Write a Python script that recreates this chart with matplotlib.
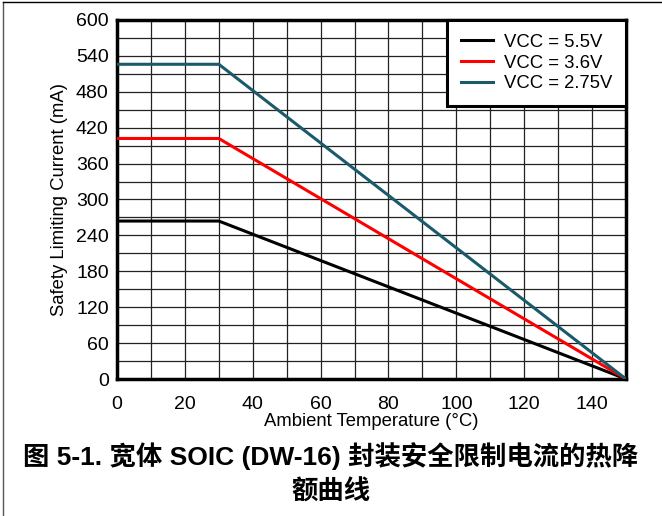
import matplotlib.pyplot as plt
from matplotlib.lines import Line2D

plt.rcParams['font.family'] = ['Liberation Sans', 'Noto Sans CJK SC', 'DejaVu Sans']

# data
temps = [0, 30, 150]
curr_55 = [264, 264, 0]
curr_36 = [402, 402, 0]
curr_275 = [526, 526, 0]
labels = ['VCC = 5.5V', 'VCC = 3.6V', 'VCC = 2.75V']
colors = ['#000000', '#ff0000', '#1a5a6a']

x_ticks = list(range(0, 141, 20))
y_ticks = list(range(0, 601, 60))

fig = plt.figure(figsize=(6.62, 5.16), dpi=100)
ax = fig.add_axes([117 / 662, 1 - 379 / 516, (626 - 117) / 662, (379 - 20) / 516])

for y, lab, c in zip([curr_55, curr_36, curr_275], labels, colors):
    ax.plot(temps, y, color=c, lw=2.2, label=lab, zorder=3)

ax.set_xlim(0, 150)
ax.set_ylim(0, 600)
ax.set_xticks(x_ticks)
ax.set_yticks(y_ticks)
ax.set_xticks(range(0, 151, 10), minor=True)
ax.set_yticks(range(0, 601, 30), minor=True)
ax.grid(which='both', color='#222222', lw=0.9)
ax.tick_params(which='both', length=0, labelsize=14)
ax.tick_params(axis='x', pad=12)
ax.tick_params(axis='y', pad=6)
for s in ax.spines.values():
    s.set_linewidth(2.5)

ax.set_xlabel('Ambient Temperature (°C)', fontsize=13.3, labelpad=0)
ax.set_ylabel('Safety Limiting Current (mA)', fontsize=13.3, labelpad=6)

leg = ax.legend(loc='upper right', fontsize=13.3, frameon=True, fancybox=False,
                borderaxespad=0, handlelength=1.7, labelspacing=0.2,
                borderpad=0.75, handletextpad=0.6)
leg.get_frame().set_edgecolor('black')
leg.get_frame().set_linewidth(2.2)
leg.get_frame().set_alpha(1)

fig.text(0.5, 1 - 456 / 516, '图 5-1. 宽体 SOIC (DW-16) 封装安全限制电流的热降',
         ha='center', va='center', fontsize=19, fontweight='bold')
fig.text(0.5, 1 - 492 / 516, '额曲线', ha='center', va='center',
         fontsize=19, fontweight='bold')

# frame lines of the page
fig.add_artist(Line2D([3 / 662, 3 / 662], [0, 1 - 2 / 516], color='#555555', lw=1))
fig.add_artist(Line2D([3 / 662, 1], [1 - 2 / 516, 1 - 2 / 516], color='#000000', lw=1))

fig.savefig('out.png', dpi=100)
